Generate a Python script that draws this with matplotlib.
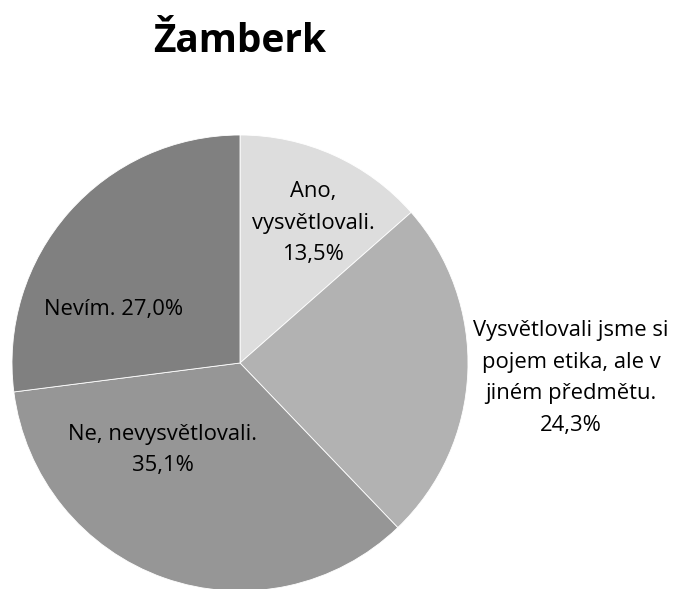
import matplotlib
matplotlib.use("Agg")
import matplotlib.pyplot as plt

title = "Žamberk"
labels = ["Ano,\nvysvětlovali.", "Vysvětlovali jsme si\npojem etika, ale v\njiném předmětu.", "Ne, nevysvětlovali.", "Nevím."]
values = [13.5, 24.3, 35.1, 27.0]
colors = ["#dddddd", "#b2b2b2", "#969696", "#808080"]

W, H = 687, 589
fig = plt.figure(figsize=(W / 100, H / 100), dpi=100)
ax = fig.add_axes([0, 0, 1, 1])

cx, cy, r = 240, H - 363, 228
ax.pie(values, colors=colors, startangle=90, counterclock=False,
       center=(cx, cy), radius=r, frame=True,
       wedgeprops=dict(linewidth=0.6, edgecolor="white"))
ax.set_xlim(0, W)
ax.set_ylim(0, H)
ax.set_aspect("equal")
ax.axis("off")

font = "Open Sans"
fs = 15.8
def pct(v):
    return f"{v:.1f}".replace(".", ",") + "%"

texts = [
    (labels[0] + "\n" + pct(values[0]), 313, H - 223),
    (labels[1] + "\n" + pct(values[1]), 571, H - 378),
    (labels[2] + "\n" + pct(values[2]), 163, H - 450),
    (labels[3] + " " + pct(values[3]), 114, H - 309),
]
for t, x, y in texts:
    ax.text(x, y, t, ha="center", va="center", fontsize=fs, family=font,
            linespacing=1.68, color="black")

ax.text(240, H - 42, title, ha="center", va="center", fontsize=28,
        fontweight="bold", family=font, color="black")

fig.savefig("out.png", dpi=100)
